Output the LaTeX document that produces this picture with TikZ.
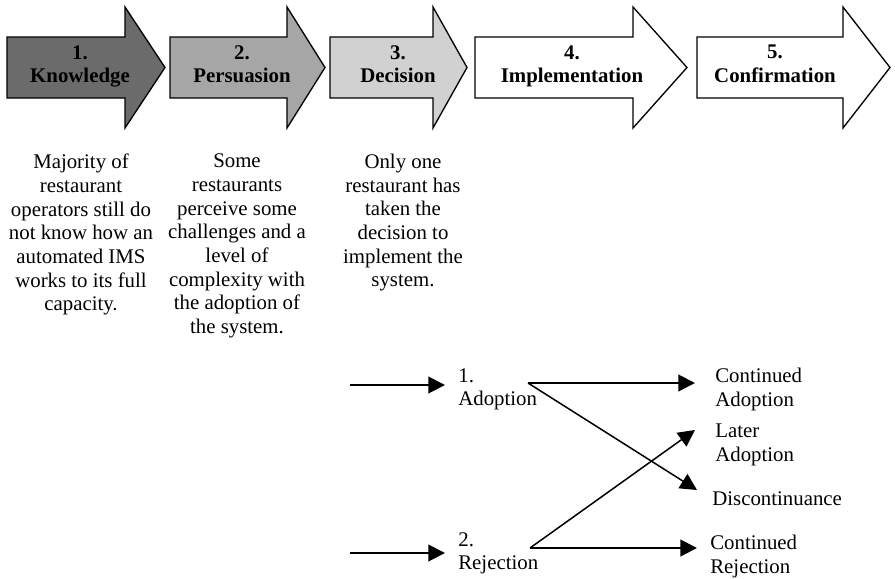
\documentclass[tikz,border=0pt]{standalone}
\usepackage{fontspec}
\setmainfont{Liberation Serif}
\usetikzlibrary{arrows.meta,positioning}

\definecolor{phaseA}{gray}{0.42}
\definecolor{phaseB}{gray}{0.65}
\definecolor{phaseC}{gray}{0.82}

\tikzset{
  phase/.style={draw=black, line width=0.8pt, line join=miter},
  phasetext/.style={anchor=north, align=center, inner sep=0pt, font=\bfseries},
  note/.style={anchor=north, align=center, inner sep=0pt},
  outcome/.style={anchor=north west, align=left, inner sep=0pt},
  flow/.style={line width=1.2pt, -{Triangle[length=10pt,width=10pt]}},
  cross/.style={flow, line width=0.9pt}
}

\begin{document}
\fontsize{12.5}{14.2}\selectfont
\begin{tikzpicture}[x=0.6pt,y=-0.6pt]
    \useasboundingbox (0,0) rectangle (895,578);
    \pgfmathsetmacro{\bodyT}{37}
    \pgfmathsetmacro{\bodyB}{98}
    \pgfmathsetmacro{\headT}{7}
    \pgfmathsetmacro{\headB}{128}
    \pgfmathsetmacro{\mid}{67.5}

    % the five stages
    \foreach \l/\h/\t/\c in {7/125/165/phaseA, 170/287/325/phaseB, 330/433/467/phaseC, 475/633/687/white, 697/843/890/white}
      \draw[phase, fill=\c] (\l,\bodyT) -- (\h,\bodyT) -- (\h,\headT) -- (\t,\mid)
        -- (\h,\headB) -- (\h,\bodyB) -- (\l,\bodyB) -- cycle;

    \node[phasetext] (know) at (80,45) {1.\\Knowledge};
    \node[phasetext] (pers) at (242,45) {2.\\Persuasion};
    \node[phasetext] (deci) at (398,45) {3.\\Decision};
    \node[phasetext] (impl) at (572,45) {4.\\Implementation};
    \node[phasetext] (conf) at (775,45) {5.\\Confirmation};

    % findings below the stages
    \node[note] (knowNote) at (81,153.7) {Majority of\\restaurant\\operators still do\\not know how an\\automated IMS\\works to its full\\capacity.};
    \node[note] (persNote) at (237,153.7) {Some\\restaurants\\perceive some\\challenges and a\\level of\\complexity with\\the adoption of\\the system.};
    \node[note] (deciNote) at (403,153.7) {Only one\\restaurant has\\taken the\\decision to\\implement the\\system.};

    % adoption / rejection outcomes
    \node[outcome] (adopt) at (458,368) {1.\\Adoption};
    \node[outcome] (reject) at (458,532) {2.\\Rejection};
    \node[outcome] (contAdopt) at (715,368) {Continued\\Adoption};
    \node[outcome] (later) at (715,424) {Later\\Adoption};
    \node[outcome] (discont) at (712,491) {Discontinuance};
    \node[outcome] (contReject) at (710,535) {Continued\\Rejection};

    \coordinate (adoptIn) at (350,385);
    \coordinate (rejectIn) at (350,553);
    \coordinate (adoptOut) at (528,383);
    \coordinate (rejectOut) at (530,548);
    \coordinate (toContAdopt) at (695,383);
    \coordinate (toLater) at (695,430);
    \coordinate (toDiscont) at (697,490);
    \coordinate (toContReject) at (697,548);

    \draw[flow, shorten >=7.8pt] (adoptIn) -- (adoptIn -| adopt.west);
    \draw[flow, shorten >=7.8pt] (rejectIn) -- (rejectIn -| reject.west);
    \draw[flow] (adoptOut) -- (toContAdopt);
    \draw[cross] (adoptOut) -- (toDiscont);
    \draw[cross] (rejectOut) -- (toLater);
    \draw[flow] (rejectOut) -- (toContReject);
\end{tikzpicture}
\end{document}
